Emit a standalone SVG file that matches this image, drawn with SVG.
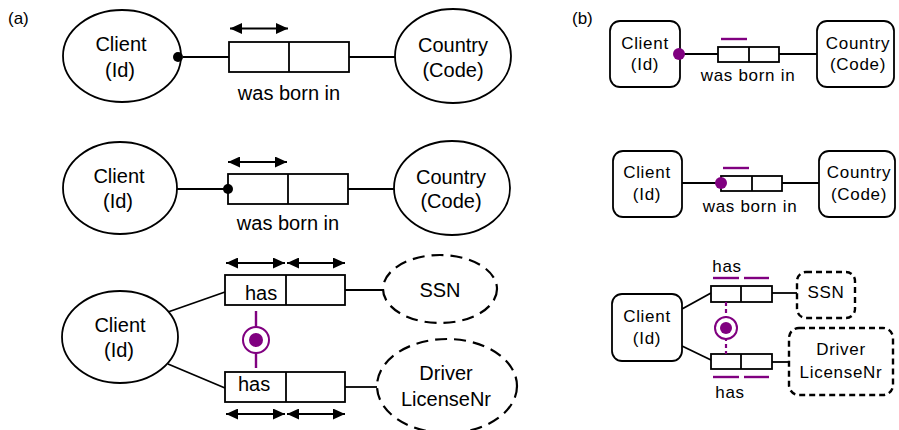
<svg xmlns="http://www.w3.org/2000/svg" width="899" height="430" viewBox="0 0 899 430">
<style>
.ent{fill:#fff;stroke:#000;stroke-width:1.8}
.dsh{fill:#fff;stroke:#000;stroke-width:2.2;stroke-dasharray:12 7}
.dshb{fill:#fff;stroke:#000;stroke-width:2.4;stroke-dasharray:6 4}
.box{fill:#fff;stroke:#000;stroke-width:1.8}
.ln{stroke:#000;stroke-width:1.8;fill:none}
.arr{stroke:#000;stroke-width:2;fill:none;marker-start:url(#ah);marker-end:url(#ah)}
.pl{stroke:#800080;stroke-width:2.4;fill:none}
.pd{stroke:#800080;stroke-width:2.2;fill:none;stroke-dasharray:4 3}
.pc{fill:#fff;stroke:#800080;stroke-width:2}
.pf{fill:#800080}
text{font-family:"Liberation Sans",Arial,sans-serif;fill:#000}
.t20{font-size:20px;text-anchor:middle}
.t17{font-size:17px;text-anchor:middle;letter-spacing:0.7px}
.lab{font-size:17px}
</style>
<defs>
<marker id="ah" viewBox="0 0 12 11" refX="12" refY="5.5" markerUnits="userSpaceOnUse" markerWidth="12" markerHeight="11" orient="auto-start-reverse">
<path d="M0,0 L12,5.5 L0,11 z" fill="#000"/>
</marker>
</defs>
<rect width="899" height="430" fill="#fff"/>
<text class="lab" x="8" y="24">(a)</text>
<text class="lab" x="572" y="24">(b)</text>

<g id="connectors">
<line class="ln" x1="183" y1="57" x2="229" y2="57"/>
<line class="ln" x1="349" y1="57" x2="395" y2="57"/>
<line class="ln" x1="177" y1="189" x2="228" y2="189"/>
<line class="ln" x1="348" y1="189" x2="394" y2="189"/>
<line class="ln" x1="168" y1="312" x2="225" y2="292"/>
<line class="ln" x1="168" y1="364" x2="225" y2="388"/>
<line class="ln" x1="345" y1="290" x2="383" y2="290"/>
<line class="ln" x1="345" y1="387" x2="377" y2="387"/>
<line class="ln" x1="680" y1="54" x2="718" y2="54"/>
<line class="ln" x1="779" y1="54" x2="817" y2="54"/>
<line class="ln" x1="682" y1="183" x2="721" y2="183"/>
<line class="ln" x1="782" y1="183" x2="819" y2="183"/>
<line class="ln" x1="682" y1="309" x2="711" y2="293"/>
<line class="ln" x1="682" y1="346" x2="711" y2="360"/>
<line class="ln" x1="772" y1="293" x2="797" y2="293"/>
<line class="ln" x1="772" y1="362" x2="789" y2="362"/>
</g>

<!-- panel a row 1 -->
<g id="a1-client">
<ellipse class="ent" cx="122" cy="56" rx="59" ry="46"/>
<text class="t20" x="121" y="51">Client</text>
<text class="t20" x="120" y="77">(Id)</text>
<circle cx="178" cy="57" r="5" fill="#000"/>
</g>
<g id="a1-fact">
<rect class="box" x="229" y="42" width="120" height="30"/>
<line class="ln" x1="289" y1="42" x2="289" y2="72"/>
<line class="arr" x1="230" y1="28.5" x2="288" y2="28.5"/>
<text class="t20" x="289" y="100">was born in</text>
</g>
<g id="a1-country">
<ellipse class="ent" cx="453" cy="56" rx="58" ry="47"/>
<text class="t20" x="453" y="52">Country</text>
<text class="t20" x="453" y="77">(Code)</text>
</g>

<!-- panel a row 2 -->
<g id="a2-client">
<ellipse class="ent" cx="120" cy="188" rx="57" ry="46"/>
<text class="t20" x="119" y="183">Client</text>
<text class="t20" x="118" y="208">(Id)</text>
</g>
<g id="a2-fact">
<rect class="box" x="228" y="174" width="120" height="30"/>
<line class="ln" x1="288" y1="174" x2="288" y2="204"/>
<circle cx="228" cy="189" r="5" fill="#000"/>
<line class="arr" x1="228" y1="162" x2="287" y2="162"/>
<text class="t20" x="288" y="230">was born in</text>
</g>
<g id="a2-country">
<ellipse class="ent" cx="452" cy="188" rx="58" ry="47"/>
<text class="t20" x="451" y="184">Country</text>
<text class="t20" x="451" y="208">(Code)</text>
</g>

<!-- panel a row 3 -->
<g id="a3-client">
<ellipse class="ent" cx="120" cy="337" rx="58" ry="46"/>
<text class="t20" x="120" y="332">Client</text>
<text class="t20" x="119" y="357">(Id)</text>
</g>
<g id="a3-fact-ssn">
<rect class="box" x="225" y="275" width="120" height="30"/>
<line class="ln" x1="286" y1="275" x2="286" y2="305"/>
<line class="arr" x1="226" y1="263" x2="285" y2="263"/>
<line class="arr" x1="287" y1="263" x2="345" y2="263"/>
<text style="font-size:20px" x="245" y="300">has</text>
</g>
<g id="a3-fact-dl">
<rect class="box" x="225" y="372" width="120" height="30"/>
<line class="ln" x1="286" y1="372" x2="286" y2="402"/>
<line class="arr" x1="226" y1="414" x2="285" y2="414"/>
<line class="arr" x1="287" y1="414" x2="345" y2="414"/>
<text style="font-size:20px" x="238" y="391">has</text>
</g>
<g id="a3-constraint">
<line class="pl" x1="256" y1="311" x2="256" y2="368"/>
<circle class="pc" cx="256" cy="340" r="13"/>
<circle class="pf" cx="256" cy="340" r="7"/>
</g>
<g id="a3-ssn">
<ellipse class="dsh" cx="440" cy="289" rx="57" ry="34"/>
<text class="t20" x="440" y="297">SSN</text>
</g>
<g id="a3-driver">
<ellipse class="dsh" cx="447" cy="386" rx="70" ry="47"/>
<text class="t20" x="446" y="380">Driver</text>
<text class="t20" x="446" y="406">LicenseNr</text>
</g>

<!-- panel b row 1 -->
<g id="b1-client">
<rect class="ent" x="610" y="21" width="70" height="66" rx="10"/>
<text class="t17" x="645" y="49">Client</text>
<text class="t17" x="645" y="70">(Id)</text>
<circle class="pf" cx="679" cy="54" r="6"/>
</g>
<g id="b1-fact">
<rect class="box" x="718" y="47" width="61" height="15"/>
<line class="ln" x1="749" y1="47" x2="749" y2="62"/>
<line class="pl" x1="721" y1="39" x2="747" y2="39"/>
<text class="t17" x="748" y="81">was born in</text>
</g>
<g id="b1-country">
<rect class="ent" x="817" y="21" width="77" height="66" rx="10"/>
<text class="t17" x="858" y="49">Country</text>
<text class="t17" x="858" y="70">(Code)</text>
</g>

<!-- panel b row 2 -->
<g id="b2-client">
<rect class="ent" x="613" y="151" width="69" height="66" rx="10"/>
<text class="t17" x="647" y="178">Client</text>
<text class="t17" x="647" y="200">(Id)</text>
</g>
<g id="b2-fact">
<rect class="box" x="721" y="176" width="61" height="15"/>
<line class="ln" x1="752" y1="176" x2="752" y2="191"/>
<circle class="pf" cx="721" cy="183" r="6"/>
<line class="pl" x1="723" y1="168" x2="749" y2="168"/>
<text class="t17" x="750" y="212">was born in</text>
</g>
<g id="b2-country">
<rect class="ent" x="819" y="151" width="76" height="66" rx="10"/>
<text class="t17" x="859" y="178">Country</text>
<text class="t17" x="859" y="200">(Code)</text>
</g>

<!-- panel b row 3 -->
<g id="b3-client">
<rect class="ent" x="612" y="294" width="70" height="67" rx="10"/>
<text class="t17" x="647" y="322">Client</text>
<text class="t17" x="647" y="344">(Id)</text>
</g>
<g id="b3-fact-ssn">
<rect class="box" x="711" y="286" width="61" height="16"/>
<line class="ln" x1="741" y1="286" x2="741" y2="302"/>
<line class="pl" x1="713" y1="278" x2="739" y2="278"/>
<line class="pl" x1="744" y1="278" x2="769" y2="278"/>
<text class="t17" x="727" y="272">has</text>
</g>
<g id="b3-fact-dl">
<rect class="box" x="711" y="354" width="61" height="15"/>
<line class="ln" x1="741" y1="354" x2="741" y2="369"/>
<line class="pl" x1="713" y1="377" x2="739" y2="377"/>
<line class="pl" x1="744" y1="377" x2="769" y2="377"/>
<text class="t17" x="730" y="398">has</text>
</g>
<g id="b3-constraint">
<line class="pd" x1="726" y1="302" x2="726" y2="354"/>
<circle class="pc" cx="726" cy="328" r="11"/>
<circle class="pf" cx="726" cy="328" r="6"/>
</g>
<g id="b3-ssn">
<rect class="dshb" x="797" y="272" width="58" height="46" rx="9"/>
<text class="t17" x="826" y="298">SSN</text>
</g>
<g id="b3-driver">
<rect class="dshb" x="789" y="328" width="104" height="67" rx="10"/>
<text class="t17" x="841" y="355">Driver</text>
<text class="t17" x="841" y="378">LicenseNr</text>
</g>
</svg>
